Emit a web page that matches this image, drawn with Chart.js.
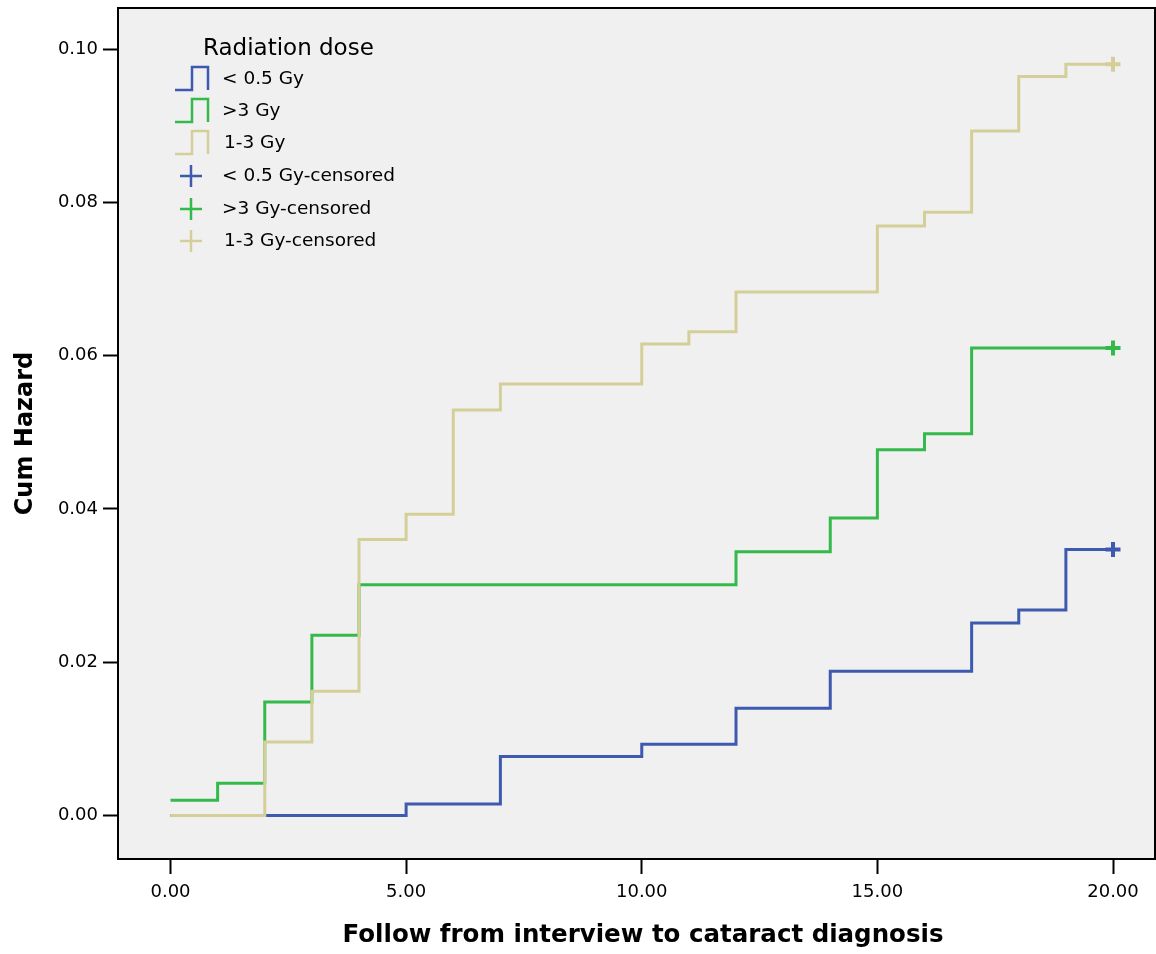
<!DOCTYPE html>
<html>
<head>
<meta charset="utf-8">
<script src="https://cdn.jsdelivr.net/npm/chart.js@4"></script>
<style>
  html, body { margin: 0; padding: 0; background: #fff; }
  #wrap { width: 1156px; height: 954px; position: relative; }
</style>
</head>
<body>
<div id="wrap"><canvas id="chart"></canvas></div>
<script>
// Cumulative hazard step values (time in years)
const lowTimes   = [0, 5, 7, 10, 12, 14, 17, 18, 19, 20];
const lowHazard  = [0, 0.0015, 0.0077, 0.0093, 0.0140, 0.0188, 0.0251, 0.0268, 0.0347, 0.0347];

const highTimes  = [0, 1, 2, 3, 4, 12, 14, 15, 16, 17, 20];
const highHazard = [0.0020, 0.0042, 0.0148, 0.0235, 0.0301, 0.0344, 0.0388, 0.0477, 0.0498, 0.0610, 0.0610];

const midTimes   = [0, 2, 3, 4, 5, 6, 7, 10, 11, 12, 15, 16, 17, 18, 19, 20];
const midHazard  = [0, 0.0096, 0.0162, 0.0360, 0.0393, 0.0529, 0.0563, 0.0615, 0.0631, 0.0683, 0.0769, 0.0787, 0.0893, 0.0964, 0.0980, 0.0980];

// censored observations
const lowCensorTimes  = [20];
const lowCensorHazard = [0.0347];
const highCensorTimes  = [20];
const highCensorHazard = [0.0610];
const midCensorTimes  = [20];
const midCensorHazard = [0.0980];

const xTicks = [0, 5, 10, 15, 20];
const yTicks = [0, 0.02, 0.04, 0.06, 0.08, 0.10];

const xTitle = 'Follow from interview to cataract diagnosis';
const yTitle = 'Cum Hazard';
const legendTitle  = 'Radiation dose';
const legendLabels = ['< 0.5 Gy', '>3 Gy', '1-3 Gy', '< 0.5 Gy-censored', '>3 Gy-censored', '1-3 Gy-censored'];

const BLUE  = '#3e5aae';
const GREEN = '#34b94b';
const TAN   = '#d4cf98';
const FONT  = '"DejaVu Sans", Arial, sans-serif';

const toPoints = (xs, ys) => xs.map((x, i) => ({ x: x, y: ys[i] }));

// fond gris + cadre du graphe + légende dans la zone de tracé
const frameLegend = {
  id: 'frameLegend',
  beforeDraw(chart) {
    const { ctx, chartArea: a } = chart;
    ctx.save();
    ctx.fillStyle = '#f0f0f0';
    ctx.fillRect(a.left, a.top, a.right - a.left, a.bottom - a.top);
    ctx.restore();
  },
  afterDraw(chart) {
    const { ctx, chartArea: a } = chart;
    ctx.save();
    ctx.strokeStyle = '#000';
    ctx.lineWidth = 2;
    ctx.strokeRect(a.left, a.top, a.right - a.left, a.bottom - a.top);

    // titre de l'axe x (un peu décalé à droite comme dans l'original)
    ctx.fillStyle = '#000';
    ctx.textAlign = 'center';
    ctx.textBaseline = 'middle';
    ctx.font = 'bold 24.5px ' + FONT;
    ctx.fillText(xTitle, 643, 936);

    // titre de légende
    ctx.textAlign = 'left';
    ctx.font = '23px ' + FONT;
    ctx.fillText(legendTitle, 203, 49);

    const colors = [BLUE, GREEN, TAN];
    const rowY = [79, 111, 143, 176, 209, 241];
    ctx.font = '18.5px ' + FONT;
    legendLabels.forEach((label, i) => {
      const y = rowY[i];
      const c = colors[i % 3];
      ctx.strokeStyle = c;
      ctx.lineWidth = 2.5;
      ctx.beginPath();
      if (i < 3) {
        // petite icône en escalier
        ctx.moveTo(175, y + 11);
        ctx.lineTo(192, y + 11);
        ctx.lineTo(192, y - 12);
        ctx.lineTo(208, y - 12);
        ctx.lineTo(208, y + 11);
      } else {
        ctx.moveTo(180, y);
        ctx.lineTo(202, y);
        ctx.moveTo(191, y - 11);
        ctx.lineTo(191, y + 11);
      }
      ctx.stroke();
      ctx.fillStyle = '#000';
      ctx.fillText(label, i === 2 || i === 5 ? 224 : 222, y);
    });
    ctx.restore();
  }
};

const stepLine = (label, data, color) => ({
  type: 'line',
  label: label,
  data: data,
  borderColor: color,
  backgroundColor: color,
  borderWidth: 3,
  stepped: 'before',
  pointRadius: 0,
  fill: false,
});

const censorSet = (label, data, color) => ({
  type: 'scatter',
  label: label,
  data: data,
  borderColor: color,
  backgroundColor: color,
  pointStyle: 'cross',
  pointRadius: 7.5,
  pointBorderWidth: 4,
  showLine: false,
});

new Chart(document.getElementById('chart'), {
  type: 'scatter',
  data: {
    datasets: [
      censorSet(legendLabels[5], toPoints(midCensorTimes, midCensorHazard), TAN),
      censorSet(legendLabels[4], toPoints(highCensorTimes, highCensorHazard), GREEN),
      censorSet(legendLabels[3], toPoints(lowCensorTimes, lowCensorHazard), BLUE),
      stepLine(legendLabels[2], toPoints(midTimes, midHazard), TAN),
      stepLine(legendLabels[1], toPoints(highTimes, highHazard), GREEN),
      stepLine(legendLabels[0], toPoints(lowTimes, lowHazard), BLUE),
    ],
  },
  options: {
    responsive: true,
    maintainAspectRatio: false,
    animation: false,
    devicePixelRatio: 1,
    layout: { autoPadding: false, padding: { top: 8, right: 1, left: 0, bottom: 0 } },
    plugins: {
      legend: { display: false },
      tooltip: { enabled: false },
    },
    scales: {
      x: {
        type: 'linear',
        min: -1.114,
        max: 20.891,
        afterFit: (s) => { s.height = 95; s.paddingLeft = 0; s.paddingRight = 0; },
        afterBuildTicks: (s) => { s.ticks = xTicks.map(v => ({ value: v })); },
        border: { display: false },
        grid: { drawOnChartArea: false, drawTicks: true, tickLength: 15, tickColor: '#000', tickWidth: 2 },
        ticks: {
          color: '#000',
          padding: 8,
          font: { family: FONT, size: 18 },
          callback: (v) => Number(v).toFixed(2),
        },
        title: { display: false },
      },
      y: {
        type: 'linear',
        min: -0.00568,
        max: 0.10535,
        afterFit: (s) => { s.width = 118; s.paddingTop = 0; s.paddingBottom = 0; },
        afterBuildTicks: (s) => { s.ticks = yTicks.map(v => ({ value: v })); },
        border: { display: false },
        grid: { drawOnChartArea: false, drawTicks: true, tickLength: 15, tickColor: '#000', tickWidth: 2 },
        ticks: {
          color: '#000',
          padding: 5,
          font: { family: FONT, size: 18 },
          callback: (v) => Number(v).toFixed(2),
        },
        title: {
          display: true,
          text: yTitle,
          color: '#000',
          font: { family: FONT, size: 24, weight: 'bold' },
          padding: { top: 11, bottom: 0 },
        },
      },
    },
  },
  plugins: [frameLegend],
});
</script>
</body>
</html>
